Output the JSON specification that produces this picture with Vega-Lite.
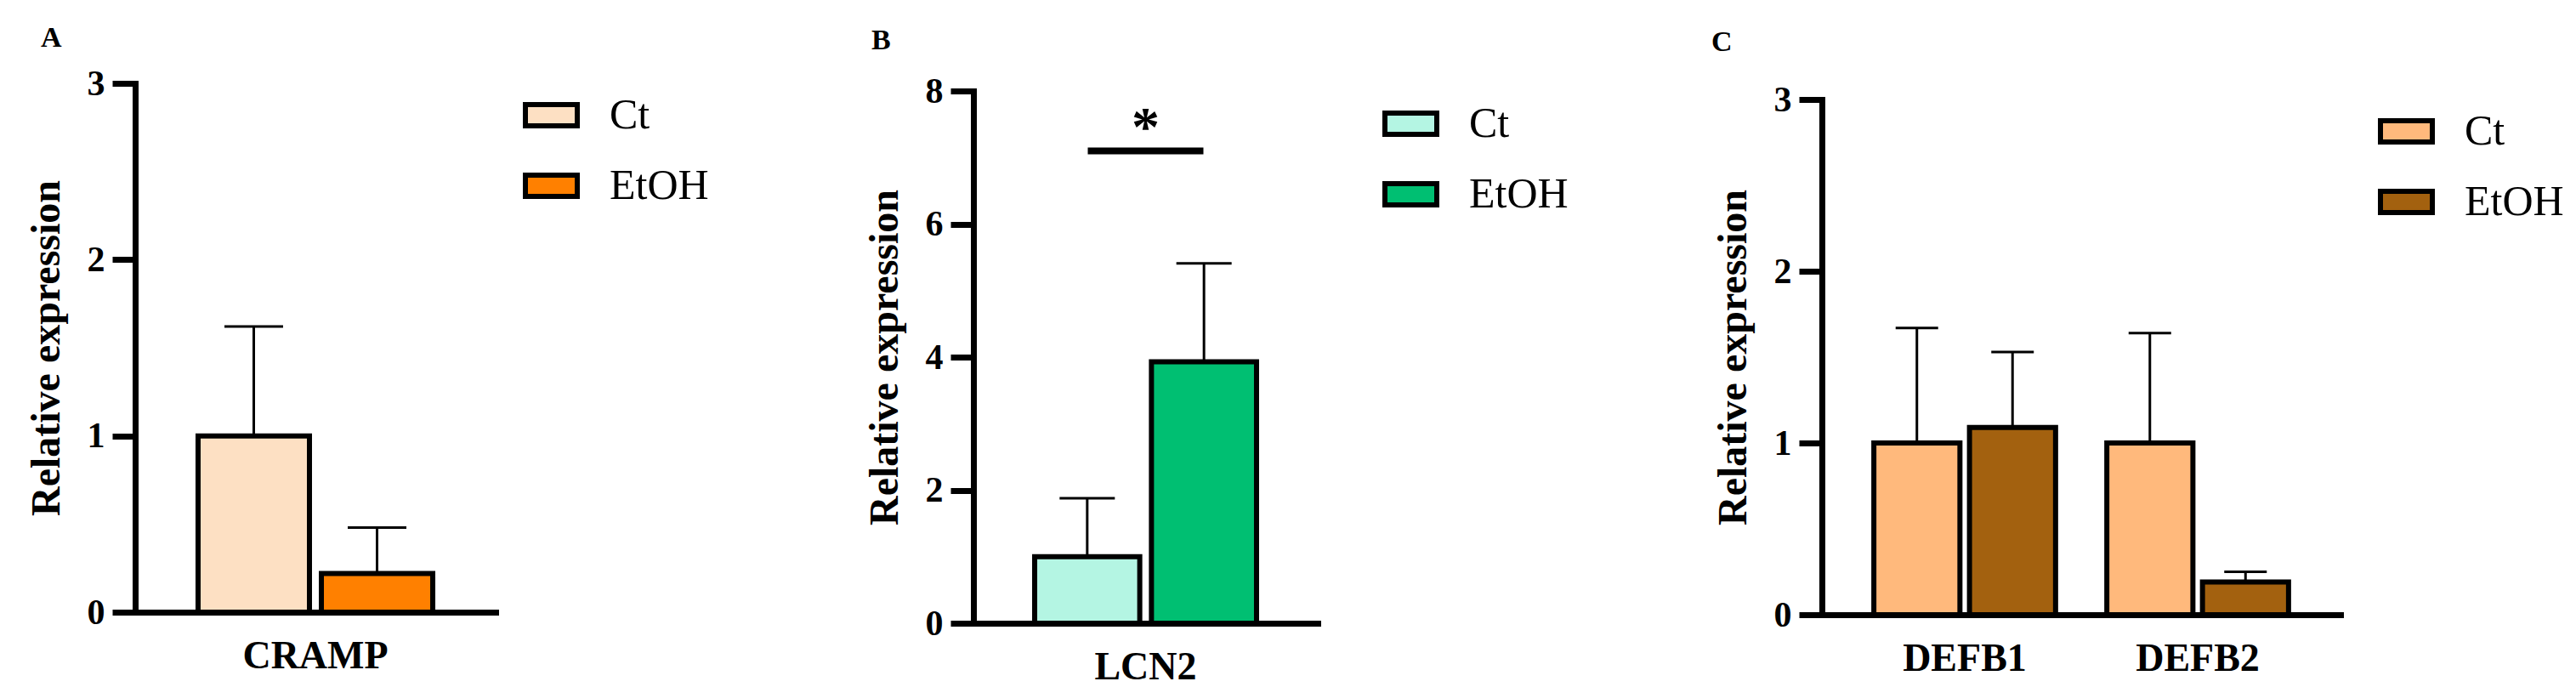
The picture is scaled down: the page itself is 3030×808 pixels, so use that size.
{
  "$schema": "https://vega.github.io/schema/vega-lite/v6.json",
  "padding": {"left": 31, "top": 28, "right": 0, "bottom": 0},
  "background": "white",
  "bounds": "flush",
  "spacing": 0,
  "config": {
    "view": {"stroke": null},
    "font": "Liberation Serif",
    "axis": {"domainColor": "black", "domainWidth": 7, "tickColor": "black", "tickWidth": 7, "labelColor": "black", "titleColor": "black", "labelFont": "Liberation Serif", "titleFont": "Liberation Serif", "grid": false, "labelOverlap": false, "labelBound": false, "labelFlush": false},
    "legend": {"orient": "none", "padding": 0, "labelFont": "Liberation Serif", "labelFontSize": 50, "labelColor": "black", "symbolType": "M-1,-0.41L1,-0.41L1,0.41L-1,0.41Z", "symbolSize": 3721, "symbolStrokeColor": "black", "symbolStrokeWidth": 6, "symbolOpacity": 1, "labelOffset": 35, "rowPadding": 24},
    "title": {"font": "Liberation Serif", "fontSize": 34, "fontWeight": "bold", "color": "black", "anchor": "start", "frame": "group", "baseline": "alphabetic"}
  },
  "resolve": {"scale": {"color": "independent", "x": "independent", "y": "independent", "xOffset": "independent"}, "legend": {"color": "independent"}},
  "hconcat": [
    {
      "width": 424, "height": 635,
      "title": {"text": "A", "dx": -111, "offset": 15},
      "data": {"values": [
        {"gene": "CRAMP", "group": "Ct", "value": 1.0, "upper": 1.62},
        {"gene": "CRAMP", "group": "EtOH", "value": 0.22, "upper": 0.48}
      ]},
      "layer": [
        {
          "mark": {"type": "bar", "stroke": "black", "strokeWidth": 6, "opacity": 1},
          "encoding": {
            "x": {"field": "gene", "type": "nominal", "scale": {"paddingInner": 0, "paddingOuter": 0.268}, "axis": {"title": null, "ticks": false, "tickSize": 0, "offset": -13, "labelAngle": 0, "labelFontSize": 46, "labelFontWeight": "bold", "labelPadding": 29, "labelBaseline": "top", "domainCap": "square"}},
            "xOffset": {"field": "group", "type": "nominal", "scale": {"paddingInner": 0.0966, "paddingOuter": 0}},
            "y": {"field": "value", "type": "quantitative", "title": "Relative expression", "scale": {"domain": [0, 3], "nice": false, "range": [622, 0]}, "axis": {"values": [0, 1, 2, 3], "format": "d", "tickSize": 27, "labelPadding": 9, "labelFontSize": 42, "labelFontWeight": "bold", "titleFontSize": 48, "titleFontWeight": "bold", "titleX": -104, "titleBaseline": "middle", "domainCap": "square"}},
            "color": {"field": "group", "type": "nominal", "scale": {"domain": ["Ct", "EtOH"], "range": ["#FDE0C3", "#FF8000"]}, "legend": {"title": null, "legendX": 456, "legendY": 4}}
          }
        },
        {
          "mark": {"type": "rule", "strokeWidth": 3, "color": "black"},
          "encoding": {
            "x": {"field": "gene", "type": "nominal"},
            "xOffset": {"field": "group", "type": "nominal"},
            "y": {"field": "value", "type": "quantitative", "title": "Relative expression"},
            "y2": {"field": "upper"}
          }
        },
        {
          "mark": {"type": "tick", "thickness": 3, "size": 69, "color": "black", "opacity": 1},
          "encoding": {
            "x": {"field": "gene", "type": "nominal"},
            "xOffset": {"field": "group", "type": "nominal"},
            "y": {"field": "upper", "type": "quantitative", "title": "Relative expression"}
          }
        }
      ]
    },
    {"width": 562, "height": 1, "data": {"values": []}, "mark": "point", "encoding": {}},
    {
      "width": 405, "height": 635,
      "title": {"text": "B", "dx": -120, "offset": 21},
      "data": {"values": [
        {"gene": "LCN2", "group": "Ct", "value": 1.0, "upper": 1.88},
        {"gene": "LCN2", "group": "EtOH", "value": 3.93, "upper": 5.41}
      ]},
      "layer": [
        {
          "mark": {"type": "bar", "stroke": "black", "strokeWidth": 6, "opacity": 1},
          "encoding": {
            "x": {"field": "gene", "type": "nominal", "scale": {"paddingInner": 0, "paddingOuter": 0.276}, "axis": {"title": null, "ticks": false, "tickSize": 0, "labelAngle": 0, "labelFontSize": 46, "labelFontWeight": "bold", "labelPadding": 29, "labelBaseline": "top", "domainCap": "square"}},
            "xOffset": {"field": "group", "type": "nominal", "scale": {"paddingInner": 0.1, "paddingOuter": 0}},
            "y": {"field": "value", "type": "quantitative", "title": "Relative expression", "scale": {"domain": [0, 8], "nice": false, "range": [635, 9]}, "axis": {"values": [0, 2, 4, 6, 8], "format": "d", "tickSize": 27, "labelPadding": 9, "labelFontSize": 42, "labelFontWeight": "bold", "titleFontSize": 48, "titleFontWeight": "bold", "titleX": -104, "titleBaseline": "middle", "domainCap": "square"}},
            "color": {"field": "group", "type": "nominal", "scale": {"domain": ["Ct", "EtOH"], "range": ["#B4F5E3", "#00BF72"]}, "legend": {"title": null, "legendX": 481, "legendY": 14}}
          }
        },
        {
          "mark": {"type": "rule", "strokeWidth": 3, "color": "black"},
          "encoding": {
            "x": {"field": "gene", "type": "nominal"},
            "xOffset": {"field": "group", "type": "nominal"},
            "y": {"field": "value", "type": "quantitative", "title": "Relative expression"},
            "y2": {"field": "upper"}
          }
        },
        {
          "mark": {"type": "tick", "thickness": 3, "size": 65, "color": "black", "opacity": 1},
          "encoding": {
            "x": {"field": "gene", "type": "nominal"},
            "xOffset": {"field": "group", "type": "nominal"},
            "y": {"field": "upper", "type": "quantitative", "title": "Relative expression"}
          }
        },
        {
          "data": {"values": [{"gene": "LCN2", "sig": 7.1, "star": 7.18, "label": "*"}]},
          "mark": {"type": "tick", "thickness": 8, "size": 136, "color": "black", "opacity": 1},
          "encoding": {
            "x": {"field": "gene", "type": "nominal"},
            "y": {"field": "sig", "type": "quantitative", "title": "Relative expression"}
          }
        },
        {
          "data": {"values": [{"gene": "LCN2", "sig": 7.1, "star": 7.18, "label": "*"}]},
          "mark": {"type": "text", "font": "Liberation Serif", "fontWeight": "bold", "fontSize": 66, "baseline": "alphabetic", "align": "center", "color": "black"},
          "encoding": {
            "x": {"field": "gene", "type": "nominal"},
            "y": {"field": "star", "type": "quantitative", "title": "Relative expression"},
            "text": {"field": "label"}
          }
        }
      ]
    },
    {"width": 593, "height": 1, "data": {"values": []}, "mark": "point", "encoding": {}},
    {
      "width": 610, "height": 635,
      "title": {"text": "C", "dx": -130, "offset": 29},
      "data": {"values": [
        {"gene": "DEFB1", "group": "Ct", "value": 1.0, "upper": 1.67},
        {"gene": "DEFB1", "group": "EtOH", "value": 1.09, "upper": 1.53},
        {"gene": "DEFB2", "group": "Ct", "value": 1.0, "upper": 1.64},
        {"gene": "DEFB2", "group": "EtOH", "value": 0.19, "upper": 0.25}
      ]},
      "layer": [
        {
          "mark": {"type": "bar", "stroke": "black", "strokeWidth": 6, "opacity": 1},
          "encoding": {
            "x": {"field": "gene", "type": "nominal", "scale": {"paddingInner": 0.22, "paddingOuter": 0.223}, "axis": {"title": null, "ticks": false, "tickSize": 0, "offset": -10, "labelAngle": 0, "labelFontSize": 46, "labelFontWeight": "bold", "labelPadding": 29, "labelBaseline": "top", "domainCap": "square"}},
            "xOffset": {"field": "group", "type": "nominal", "scale": {"paddingInner": 0.1, "paddingOuter": 0}},
            "y": {"field": "value", "type": "quantitative", "title": "Relative expression", "scale": {"domain": [0, 3], "nice": false, "range": [625, 19]}, "axis": {"values": [0, 1, 2, 3], "format": "d", "tickSize": 27, "labelPadding": 9, "labelFontSize": 42, "labelFontWeight": "bold", "titleFontSize": 48, "titleFontWeight": "bold", "titleX": -104, "titleBaseline": "middle", "domainCap": "square"}},
            "color": {"field": "group", "type": "nominal", "scale": {"domain": ["Ct", "EtOH"], "range": ["#FFB97C", "#A3610F"]}, "legend": {"title": null, "legendX": 654, "legendY": 23}}
          }
        },
        {
          "mark": {"type": "rule", "strokeWidth": 3, "color": "black"},
          "encoding": {
            "x": {"field": "gene", "type": "nominal"},
            "xOffset": {"field": "group", "type": "nominal"},
            "y": {"field": "value", "type": "quantitative", "title": "Relative expression"},
            "y2": {"field": "upper"}
          }
        },
        {
          "mark": {"type": "tick", "thickness": 3, "size": 50, "color": "black", "opacity": 1},
          "encoding": {
            "x": {"field": "gene", "type": "nominal"},
            "xOffset": {"field": "group", "type": "nominal"},
            "y": {"field": "upper", "type": "quantitative", "title": "Relative expression"}
          }
        }
      ]
    }
  ]
}
